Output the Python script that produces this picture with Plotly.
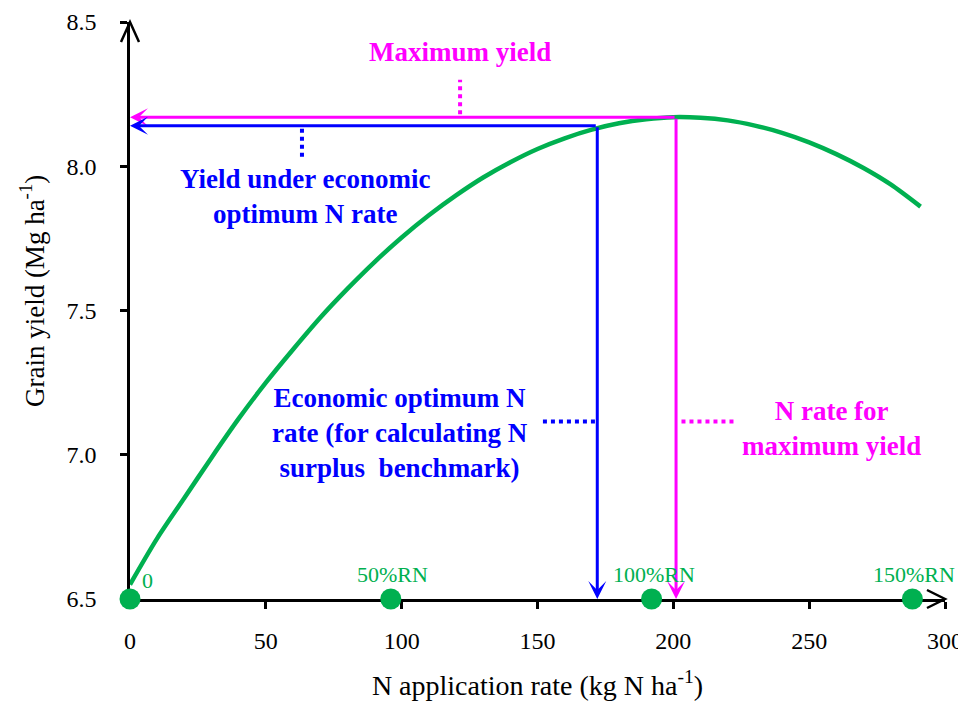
import plotly.graph_objects as go

# ---------------- data ----------------
n_rate = [0, 10, 20, 30, 40, 50, 60, 70, 80, 90, 100, 110, 120, 130, 140,
          150, 160, 170, 180, 190, 200, 210, 220, 230, 240, 250, 260, 270, 280, 291]
grain_yield = [6.55, 6.71, 6.85, 6.99, 7.125, 7.25, 7.365, 7.475, 7.575, 7.668, 7.753,
               7.83, 7.899, 7.961, 8.014, 8.06, 8.097, 8.127, 8.149, 8.163, 8.17, 8.168,
               8.159, 8.141, 8.116, 8.083, 8.042, 7.994, 7.937, 7.86]

eonr_rate = 172          # economic optimum N rate
eonr_yield = 8.14        # yield at economic optimum N rate
maxy_rate = 201          # N rate for maximum yield
max_yield = 8.17         # maximum yield

rn_rates = [0, 96, 192, 288]
rn_level = [6.5, 6.5, 6.5, 6.5]
rn_labels = ["0", "50%RN", "100%RN", "150%RN"]

x_ticks = [0, 50, 100, 150, 200, 250, 300]
y_ticks = [6.5, 7.0, 7.5, 8.0, 8.5]
y_tick_labels = ["6.5", "7.0", "7.5", "8.0", "8.5"]

# ---------------- styling ----------------
GREEN = "#00B050"
BLUE = "#0000FF"
MAGENTA = "#FF00FF"
SERIF = "Liberation Serif, Times New Roman, Tinos, DejaVu Serif, Noto Serif, serif"
X0, X1 = 0, 300
Y0, Y1 = 6.5, 8.5

fig = go.Figure()

# response curve
fig.add_trace(go.Scatter(
    x=n_rate, y=grain_yield, mode="lines",
    line=dict(color=GREEN, width=4.5, shape="spline", smoothing=0.8),
    cliponaxis=False, showlegend=False, hoverinfo="skip"))

# dotted leader lines
def dotted(xs, ys, color):
    fig.add_trace(go.Scatter(x=xs, y=ys, mode="lines",
                             line=dict(color=color, width=4, dash="dot"),
                             showlegend=False, hoverinfo="skip", cliponaxis=False))

dotted([121.5, 121.5], [max_yield + 0.01, 8.30], MAGENTA)
dotted([63.3, 63.3], [eonr_yield - 0.01, 8.02], BLUE)
dotted([152, eonr_rate], [7.115, 7.115], BLUE)
dotted([maxy_rate + 2, 223], [7.115, 7.115], MAGENTA)

# RN treatment markers
fig.add_trace(go.Scatter(
    x=rn_rates, y=rn_level, mode="markers",
    marker=dict(color=GREEN, size=21, symbol="circle", line=dict(width=0)),
    cliponaxis=False, showlegend=False, hoverinfo="skip"))

annotations = []

# arrows (blue: economic optimum, magenta: maximum yield)
def arrow(x, y, ax, ay, color):
    annotations.append(dict(
        x=x, y=y, ax=ax, ay=ay, xref="x", yref="y", axref="x", ayref="y",
        text="", showarrow=True, arrowhead=3, arrowsize=1.0, arrowwidth=3,
        arrowcolor=color, standoff=0, startstandoff=0))

arrow(X0, max_yield, maxy_rate, max_yield, MAGENTA)
arrow(maxy_rate, Y0, maxy_rate, max_yield, MAGENTA)
arrow(X0, eonr_yield, eonr_rate, eonr_yield, BLUE)
arrow(eonr_rate, Y0, eonr_rate, eonr_yield, BLUE)

# text labels
def label(text, x, y, color, size=27):
    annotations.append(dict(
        x=x, y=y, xref="x", yref="y", text=f"<b>{text}</b>",
        showarrow=False, align="center", xanchor="center", yanchor="middle",
        font=dict(family=SERIF, size=size, color=color)))

label("Maximum yield", 121.5, 8.396, MAGENTA)
label("Yield under economic<br>optimum N rate", 64.5, 7.895, BLUE)
label("Economic optimum N<br>rate (for calculating N<br>surplus  benchmark)", 99.4, 7.076, BLUE)
label("N rate for<br>maximum yield", 258.3, 7.09, MAGENTA)

# RN marker labels
for xr, yr, lab in zip(rn_rates, rn_level, rn_labels):
    annotations.append(dict(
        x=xr, y=yr, xref="x", yref="y", text=lab, showarrow=False,
        xanchor="center", yanchor="middle",
        xshift=17 if lab == "0" else 2, yshift=19 if lab == "0" else 25,
        font=dict(family=SERIF, size=22, color=GREEN)))

# y-axis title
annotations.append(dict(
    x=-0.12, y=0.534, xref="paper", yref="paper", textangle=-90,
    text="Grain yield (Mg ha<sup>-1</sup>)", showarrow=False,
    xanchor="center", yanchor="middle",
    font=dict(family=SERIF, size=27, color="black")))

shapes = []
# open chevron arrowheads at the axis ends
shapes.append(dict(type="path", xref="paper", yref="paper", xsizemode="pixel", ysizemode="pixel",
                   xanchor=1, yanchor=0, path="M -18,9 L 0,0 L -18,-9",
                   line=dict(color="black", width=2.5), layer="above"))
shapes.append(dict(type="path", xref="paper", yref="paper", xsizemode="pixel", ysizemode="pixel",
                   xanchor=0, yanchor=1, path="M -9,-20 L 0,0 L 9,-20",
                   line=dict(color="black", width=2.5), layer="above"))

axis_common = dict(showgrid=False, zeroline=False, showline=True, automargin=False,
                   linecolor="black", linewidth=2.5, layer="below traces",
                   ticks="outside", ticklen=7, tickwidth=2.5, tickcolor="black",
                   tickfont=dict(family=SERIF, size=24, color="black"))

# the page body adds an 8 px offset, so the figure is 8 px smaller at left/top
fig.update_layout(
    width=958, height=703,
    margin=dict(l=122, r=21, t=14, b=112),
    paper_bgcolor="white", plot_bgcolor="white",
    font=dict(family=SERIF, color="black"),
    annotations=annotations, shapes=shapes, showlegend=False,
    xaxis=dict(range=[X0, X1], tickvals=x_ticks, ticklabelstandoff=11,
               title=dict(text="N application rate (kg N ha<sup>-1</sup>)",
                          font=dict(family=SERIF, size=28, color="black"),
                          standoff=23),
               **axis_common),
    yaxis=dict(range=[Y0, Y1], tickvals=y_ticks, ticktext=y_tick_labels,
               ticklabelstandoff=19, **axis_common),
)

fig.write_html("out.html")
